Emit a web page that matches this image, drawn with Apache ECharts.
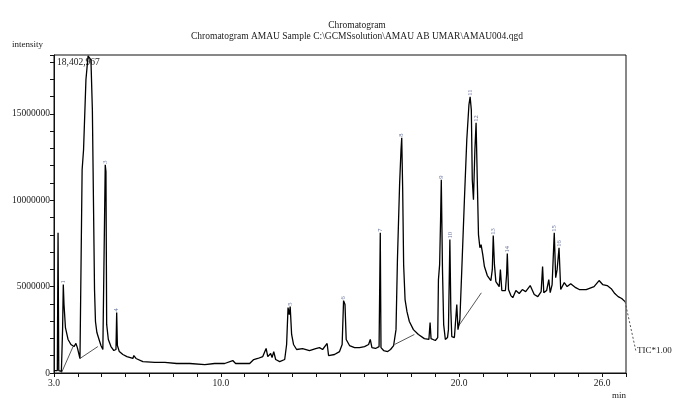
<!DOCTYPE html>
<html>
<head>
<meta charset="utf-8">
<script src="https://cdn.jsdelivr.net/npm/echarts@6/dist/echarts.min.js"></script>
<style>html,body{margin:0;padding:0;background:#fff;}#c{width:673px;height:401px;}</style>
</head>
<body>
<div id="c"></div>
<script>
// Retention time (min)
const times = [3.00,3.14,3.17,3.20,3.31,3.36,3.39,3.42,3.48,3.59,
3.71,3.84,3.92,3.98,4.09,4.14,4.18,4.24,4.34,4.43,
4.49,4.55,4.61,4.65,4.70,4.74,4.80,4.89,4.97,5.05,
5.12,5.15,5.18,5.21,5.28,5.39,5.51,5.60,5.63,5.66,
5.74,5.89,6.06,6.31,6.35,6.44,6.73,7.23,7.65,8.15,
8.70,9.33,9.74,10.16,10.50,10.62,11.21,11.38,11.55,11.76,
11.90,11.97,12.09,12.15,12.22,12.30,12.47,12.68,12.76,12.82,
12.87,12.91,12.97,13.05,13.18,13.43,13.72,13.98,14.14,14.27,
14.46,14.52,14.77,14.98,15.09,15.15,15.21,15.26,15.40,15.61,
15.82,16.03,16.20,16.27,16.34,16.49,16.64,16.69,16.72,16.83,
17.00,17.12,17.25,17.35,17.41,17.50,17.56,17.59,17.63,17.67,
17.73,17.81,17.91,18.08,18.29,18.54,18.73,18.78,18.82,19.00,
19.10,19.13,19.18,19.22,19.25,19.30,19.35,19.42,19.51,19.55,
19.61,19.65,19.69,19.80,19.90,19.95,20.03,20.11,20.22,20.32,
20.41,20.46,20.51,20.55,20.60,20.66,20.71,20.76,20.81,20.87,
20.92,20.99,21.06,21.18,21.33,21.39,21.43,21.48,21.54,21.68,
21.73,21.79,21.94,21.99,22.02,22.07,22.17,22.25,22.38,22.52,
22.65,22.79,22.98,23.15,23.30,23.44,23.50,23.55,23.67,23.76,
23.82,23.90,23.99,24.05,24.11,24.19,24.26,24.41,24.53,24.68,
24.89,25.04,25.33,25.66,25.87,26.02,26.21,26.38,26.53,26.67,26.82,26.96];

// TIC intensity
const intensities = [140000,140000,8120000,140000,90000,2510000,5120000,3960000,2630000,1940000,
1650000,1530000,1710000,1470000,840000,950000,11760000,12920000,16970000,18350000,
18402967,18120000,15230000,10610000,4830000,2980000,2340000,1940000,1590000,1360000,
1470000,12050000,11650000,2810000,1940000,1530000,1300000,1360000,3500000,1590000,
1240000,1070000,950000,840000,1010000,840000,660000,610000,610000,550000,
550000,490000,550000,550000,720000,550000,550000,780000,840000,950000,
1420000,950000,1130000,900000,1240000,780000,660000,780000,1650000,3790000,
3380000,3840000,2230000,1650000,1360000,1410000,1300000,1410000,1470000,1360000,
1710000,1010000,1070000,1240000,1650000,4190000,3960000,1940000,1590000,1470000,
1470000,1530000,1650000,1940000,1470000,1420000,1530000,8120000,1470000,1300000,
1240000,1360000,1590000,2510000,6560000,10900000,12920000,13610000,10610000,6270000,
4250000,3550000,2980000,2510000,2230000,1990000,1940000,2920000,1990000,1880000,
2050000,5400000,6270000,8870000,11180000,5980000,2800000,1940000,2050000,2510000,
7720000,3670000,2110000,2050000,3960000,2510000,3090000,5980000,10030000,13500000,
15520000,15980000,15230000,11180000,10030000,12920000,14480000,11180000,8010000,7250000,
7430000,6850000,6160000,5640000,5350000,5980000,7950000,6270000,5290000,5000000,
5980000,4770000,4770000,5690000,6910000,4830000,4480000,4360000,4770000,4600000,
4830000,4710000,5060000,4540000,4420000,4710000,6160000,4650000,4770000,5400000,
4650000,5120000,8120000,5520000,5980000,7250000,4830000,5230000,5000000,5170000,
4940000,4830000,4830000,5000000,5350000,5120000,5060000,4880000,4600000,4420000,4310000,4130000];

// Peak annotations
const peakNames = ['1','3','4','5','6','7','8','9','10','11','12','13','14','15','16'];
const peakTimes = [3.39,5.15,5.63,12.91,15.15,16.69,17.59,19.25,19.61,20.46,20.71,21.43,22.02,23.99,24.19];
const peakIntensities = [5120000,12050000,3500000,3840000,4190000,8120000,13610000,11180000,7720000,15980000,14480000,7950000,6910000,8120000,7250000];

// Integration baselines (start/end pairs)
const baseStartTimes = [3.31, 4.09, 17.29, 19.97];
const baseEndTimes = [3.80, 4.84, 18.12, 20.93];
const baseStartValues = [0, 840000, 1650000, 2710000];
const baseEndValues = [1530000, 1530000, 2230000, 4640000];

// Trailing TIC marker line (runs past the axis end)
const ticTimes = [26.96, 27.42];
const ticValues = [4130000, 1240000];
const ticLabel = 'TIC*1.00';

// Axes
const xMin = 3, xMax = 27, xTickStep = 1;
const xLabelValues = [3, 10, 20, 26];
const yMax = 18402967, yTickStep = 1000000, yLabelStep = 5000000;

const SERIF = '"Liberation Serif", "DejaVu Serif", serif';
const traceData = times.map((t, i) => [t, intensities[i]]);

const baseSeries = baseStartTimes.map((t, i) => ({
  type: 'line', silent: true, showSymbol: false, animation: false,
  data: [[t, baseStartValues[i]], [baseEndTimes[i], baseEndValues[i]]],
  lineStyle: { color: '#444', width: 0.9 }, z: 1
}));

const chart = echarts.init(document.getElementById('c'), null, { renderer: 'canvas' });
chart.setOption({
  animation: false,
  backgroundColor: '#fff',
  title: {
    text: 'Chromatogram\nChromatogram AMAU Sample C:\\GCMSsolution\\AMAU AB UMAR\\AMAU004.qgd',
    left: 352, textAlign: 'center', top: 15,
    textStyle: { fontFamily: SERIF, fontSize: 9.5, fontWeight: 'normal', color: '#1a1a1a', lineHeight: 11 }
  },
  grid: { left: 54, right: 47, top: 55, bottom: 28, show: true, borderColor: '#111', borderWidth: 1, backgroundColor: 'transparent' },
  xAxis: {
    type: 'value', min: xMin, max: xMax, interval: xTickStep,
    axisLine: { show: true, lineStyle: { color: '#111', width: 1 } },
    axisTick: { show: true, inside: false, length: 4, lineStyle: { color: '#111' } },
    splitLine: { show: false },
    axisLabel: {
      fontFamily: SERIF, fontSize: 9.5, color: '#1a1a1a', margin: 5,
      formatter: v => xLabelValues.some(l => Math.abs(l - v) < 1e-6) ? v.toFixed(1) : ''
    }
  },
  yAxis: {
    type: 'value', min: 0, max: yMax, interval: yTickStep,
    axisLine: { show: true, lineStyle: { color: '#111', width: 1 } },
    axisTick: { show: true, inside: false, length: 4, lineStyle: { color: '#111' } },
    splitLine: { show: false },
    axisLabel: {
      fontFamily: SERIF, fontSize: 9.5, color: '#1a1a1a', margin: 4,
      formatter: v => (v % yLabelStep === 0) ? String(v) : ''
    }
  },
  graphic: [
    { type: 'text', left: 12, top: 40, style: { text: 'intensity', font: '9px ' + SERIF, fill: '#1a1a1a' } },
    { type: 'text', left: 57, top: 57, style: { text: '18,402,967', font: '9.5px ' + SERIF, fill: '#1a1a1a' } },
    { type: 'text', left: 612, top: 391, style: { text: 'min', font: '9px ' + SERIF, fill: '#1a1a1a' } }
  ],
  series: [
    {
      type: 'line', showSymbol: false, data: traceData, animation: false,
      lineStyle: { color: '#000', width: 1.3 }, z: 3
    },
    ...baseSeries,
    {
      type: 'scatter', symbolSize: 0, animation: false, silent: true,
      data: peakTimes.map((t, i) => ({ value: [t, peakIntensities[i]], name: peakNames[i] })),
      label: {
        show: true, position: 'top', distance: 1, rotate: 90, align: 'left', verticalAlign: 'middle',
        formatter: p => p.name, fontFamily: SERIF, fontSize: 6.5, color: '#3a4a80'
      }, z: 4
    }
  ]
});

// TIC marker drawn outside the plot area, positioned through the chart's own scales
const ticPts = ticTimes.map((t, i) => chart.convertToPixel({ gridIndex: 0 }, [t, ticValues[i]]));
const endPt = ticPts[ticPts.length - 1];
chart.setOption({
  graphic: [
    { type: 'text', left: 12, top: 40, style: { text: 'intensity', font: '9px ' + SERIF, fill: '#1a1a1a' } },
    { type: 'text', left: 57, top: 57, style: { text: '18,402,967', font: '9.5px ' + SERIF, fill: '#1a1a1a' } },
    { type: 'text', left: 612, top: 391, style: { text: 'min', font: '9px ' + SERIF, fill: '#1a1a1a' } },
    { type: 'polyline', shape: { points: ticPts }, style: { stroke: '#444', lineWidth: 0.9, lineDash: [2, 2], fill: null } },
    { type: 'text', x: endPt[0] + 1, y: endPt[1] - 5, style: { text: ticLabel, font: '9px ' + SERIF, fill: '#1a1a1a' } }
  ]
}, { replaceMerge: ['graphic'] });
</script>
</body>
</html>
